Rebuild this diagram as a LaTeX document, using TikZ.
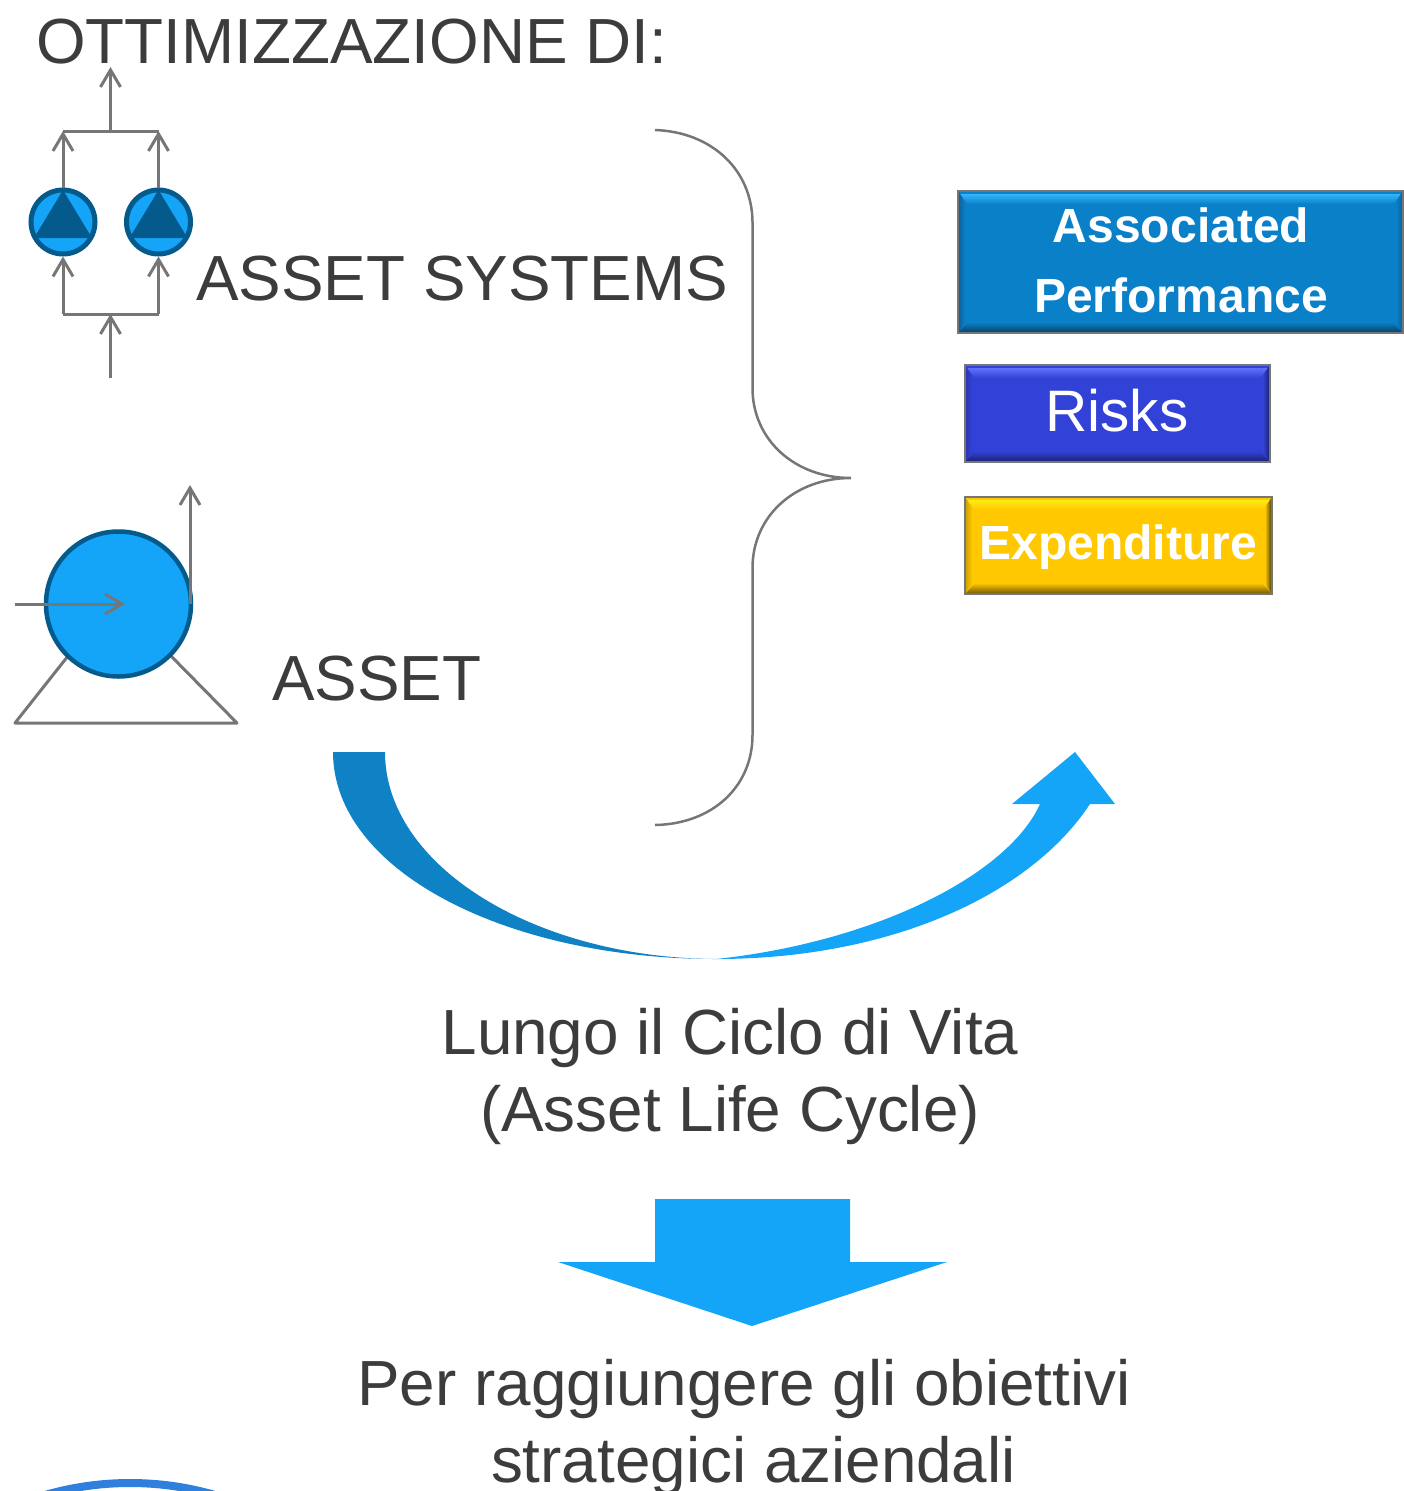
\documentclass[tikz,border=0pt]{standalone}
\usepackage{fontspec}
\setmainfont{Liberation Sans}
\usetikzlibrary{arrows.meta}
\definecolor{txt}{HTML}{3C3C3C}
\definecolor{lineg}{HTML}{767676}
\definecolor{sky}{HTML}{14A5F8}
\definecolor{deep}{HTML}{0F82C6}
\definecolor{navy}{HTML}{055A8C}
\definecolor{ring}{HTML}{2F80DC}
\definecolor{aBase}{HTML}{0A80C8}\definecolor{aTop}{HTML}{35B5FB}\definecolor{aBot}{HTML}{0A4064}\definecolor{aSide}{HTML}{0B5F96}
\definecolor{rBase}{HTML}{3342D6}\definecolor{rTop}{HTML}{6070FA}\definecolor{rBot}{HTML}{1A2070}\definecolor{rLeft}{HTML}{2A36AE}\definecolor{rRight}{HTML}{1A2060}
\definecolor{eBase}{HTML}{FFC800}\definecolor{eTop}{HTML}{FFEB14}\definecolor{eBot}{HTML}{6E5600}\definecolor{eLeft}{HTML}{C8A000}\definecolor{eRight}{HTML}{3C3410}
\tikzset{
 x=1pt,y=-1pt,
 big/.style={text=txt,inner sep=0pt,anchor=base,font=\fontsize{63.8}{64}\selectfont},
 flow/.style={draw=lineg,line width=3pt,-{Straight Barb[length=17pt,width=20pt,line width=3pt]}},
 plain/.style={draw=lineg,line width=3pt,line join=round},
 pumpc/.style={circle,draw=navy,line width=5pt,fill=sky,minimum size=64pt,inner sep=0pt},
 lab/.style={text=white,inner sep=0pt,anchor=base},
}
% x1,y1,x2,y2, base, light, dark-bottom, side-left, side-right
\newcommand{\bevelbox}[9]{%
 \fill[#5] (#1,#2) rectangle (#3,#4);
 \shade[top color=#6,bottom color=#5] (#1,#2+3) -- (#3,#2+3) -- (#3-10,#2+13) -- (#1+10,#2+13) -- cycle;
 \shade[top color=#5,bottom color=#7] (#1+10,#4-11) -- (#3-10,#4-11) -- (#3,#4) -- (#1,#4) -- cycle;
 \shade[left color=#8,right color=#5] (#1,#2) -- (#1+7,#2+10) -- (#1+7,#4-10) -- (#1,#4) -- cycle;
 \shade[left color=#5,right color=#9] (#3,#2) -- (#3-7,#2+10) -- (#3-7,#4-10) -- (#3,#4) -- cycle;
 \draw[lineg,line width=2pt] (#1,#2) rectangle (#3,#4);
}
\begin{document}
\begin{tikzpicture}
\useasboundingbox (0,0) rectangle (1403,1491);

% title
\node[big,anchor=base west] (title) at (36,63) {OTTIMIZZAZIONE DI:};
\node[big,anchor=base west] (systems) at (196,300) {ASSET SYSTEMS};
\node[big,anchor=base west] (asset) at (272,700) {ASSET};

% pump pair
\node[pumpc] (p1) at (63,222) {};
\node[pumpc] (p2) at (158.5,222) {};
\foreach \n/\cx in {p1/63,p2/158.5}{
 \fill[navy] (\cx,190) -- (\cx+29,238) -- (\cx-29,238) -- cycle;
}
\coordinate (topbar1) at (63,131);
\coordinate (topbar2) at (158.5,131);
\coordinate (topmid) at (110.5,131);
\coordinate (topend) at (110.5,67);
\coordinate (botbar1) at (63,314);
\coordinate (botbar2) at (158.5,314);
\coordinate (botmid) at (110.5,314);
\coordinate (botend) at (110.5,378);
\draw[flow] (p1.north) -- (topbar1);
\draw[flow] (p2.north) -- (topbar2);
\draw[plain] (topbar1) -- (topbar2);
\draw[flow] (topmid) -- (topend);
\draw[flow] (botbar1) -- (p1.south);
\draw[flow] (botbar2) -- (p2.south);
\draw[plain] (botbar1) -- (botbar2);
\draw[flow] (botend) -- (botmid);

% single asset
\draw[plain] (68,656) -- (15,723) -- (237,723) -- (171,656);
\node[circle,draw=navy,line width=4.5pt,fill=sky,minimum size=145pt,inner sep=0pt] (a1) at (118.5,604) {};
\coordinate (inl) at (15,604);
\coordinate (inr) at (125,604);
\coordinate (outb) at (190,604);
\coordinate (outt) at (190,485);
\draw[flow] (inl) -- (inr);
\draw[flow] (outb) -- (outt);

% brace
\draw[lineg,line width=2.5pt] (655,130) .. controls (712,132) and (752,170) .. (752.5,222)
 -- (752.5,388) .. controls (752.5,440) and (795,478) .. (851,478)
 .. controls (795,478) and (752.5,516) .. (752.5,568)
 -- (752.5,735) .. controls (752.5,787) and (712,824) .. (655,825);

% boxes
\bevelbox{958}{191}{1403}{333}{aBase}{aTop}{aBot}{aSide}{aSide}
\bevelbox{965}{365}{1270}{462}{rBase}{rTop}{rBot}{rLeft}{rRight}
\bevelbox{965}{497}{1272}{594}{eBase}{eTop}{eBot}{eLeft}{eRight}
\node[lab,font=\fontsize{48}{48}\selectfont\bfseries] (assoc) at (1181,242) {Associated};
\node[lab,font=\fontsize{48}{48}\selectfont\bfseries] (perf) at (1181,312) {Performance};
\node[lab,font=\fontsize{58.5}{58.5}\selectfont] (risks) at (1117,431) {Risks};
\node[lab,font=\fontsize{48}{48}\selectfont\bfseries] (exp) at (1118,559) {Expenditure};

% curved arrow
\fill[deep] (333,752) .. controls (333,870) and (505,959) .. (716,959)
 .. controls (535,958) and (385,866) .. (385,752) -- cycle;
\fill[sky] (716,959) .. controls (890,959) and (1030,895) .. (1090,804)
 -- (1115,804) -- (1075,752) -- (1012,804) -- (1040,804)
 .. controls (1008,875) and (875,942) .. (716,959) -- cycle;

% life cycle text
\node[big] (l1) at (730,1054.5) {Lungo il Ciclo di Vita};
\node[big] (l2) at (730,1131.5) {(Asset Life Cycle)};

% down arrow
\fill[sky] (655,1199) -- (850,1199) -- (850,1262) -- (947,1262) -- (752,1326) -- (558,1262) -- (655,1262) -- cycle;

\node[big] (g1) at (744,1405) {Per raggiungere gli obiettivi};
\node[big] (g2) at (753.5,1482) {strategici aziendali};

% cut-off ring at the bottom
\begin{scope}
\clip (0,1440) rectangle (300,1491);
\draw[ring,line width=8pt] (130,1788) circle [radius=305];
\end{scope}
\end{tikzpicture}
\end{document}
